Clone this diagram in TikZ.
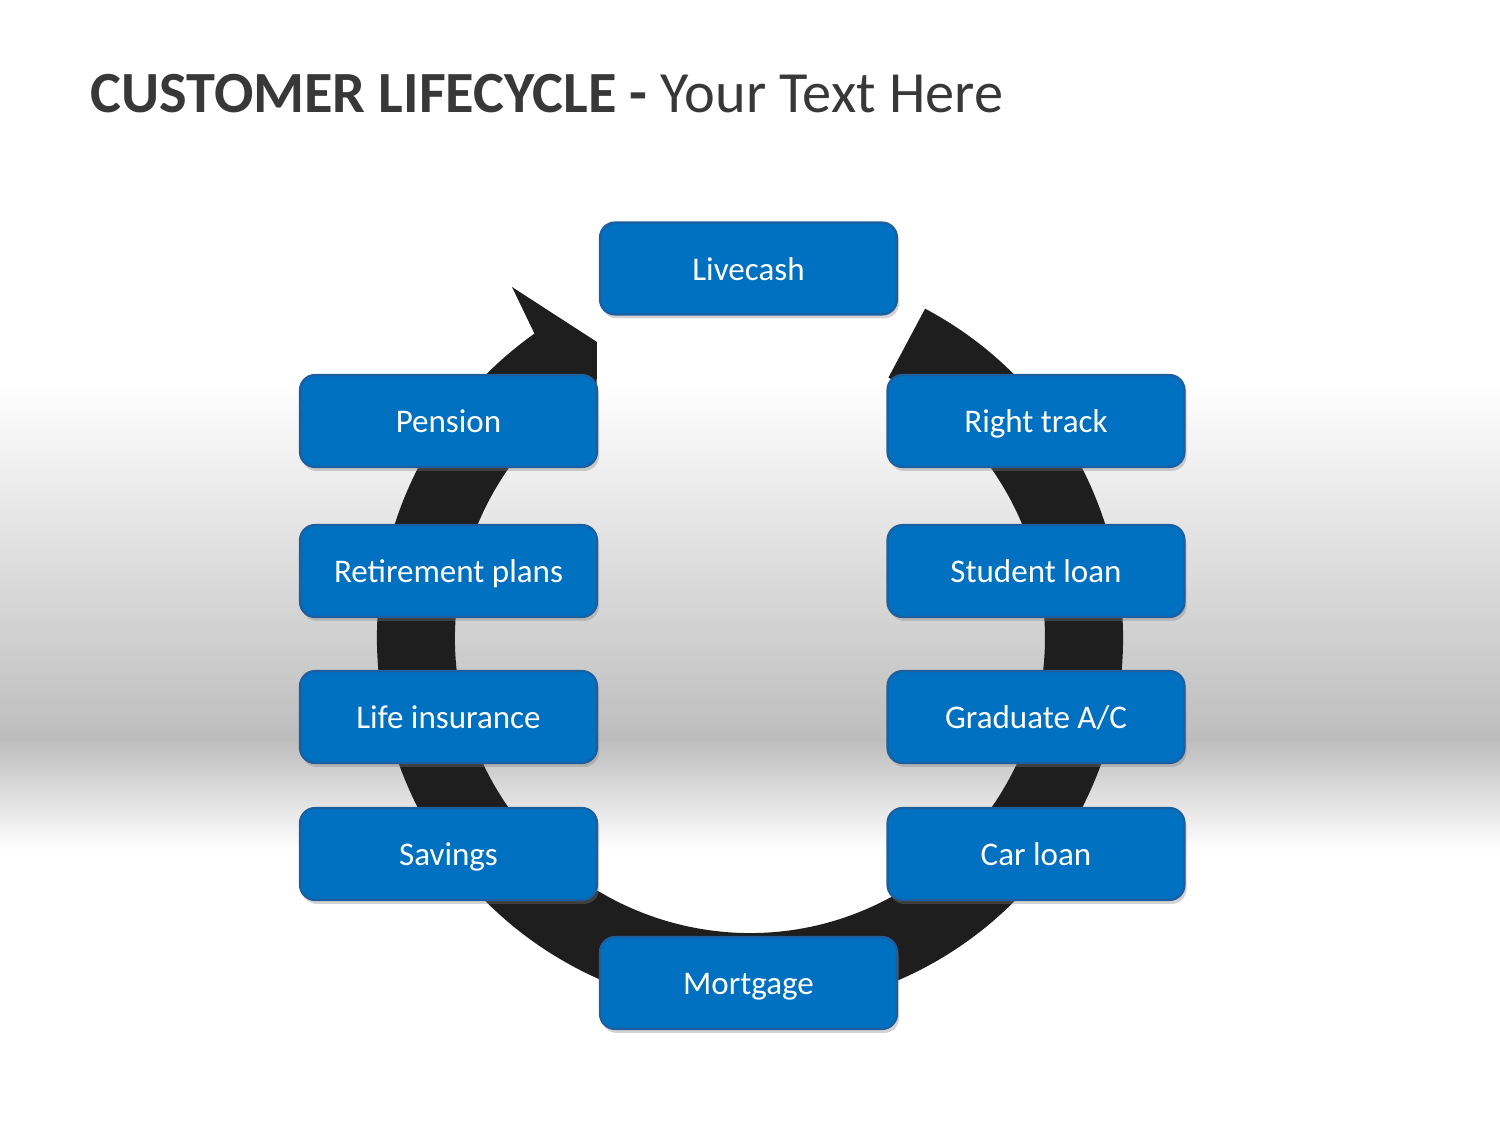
\documentclass[tikz,border=0pt]{standalone}
\usepackage{fontspec}
\setmainfont{Carlito}
\usetikzlibrary{shadows}
\definecolor{stageblue}{HTML}{0070C0}
\definecolor{stageedge}{HTML}{1C5E9E}
\definecolor{ringblack}{HTML}{1E1E1E}
\definecolor{titlegray}{HTML}{383838}
\definecolor{bandgray}{HTML}{BDBDBD}
\tikzset{
  stage/.style={draw=stageedge, line width=0.6pt, fill=stageblue, rounded corners=0.15cm,
    minimum width=2.97cm, minimum height=0.92cm, text=white, inner sep=0pt,
    text height=6.6pt, text depth=0pt, font=\fontsize{9.4}{11}\selectfont,
    drop shadow={shadow xshift=0.02cm, shadow yshift=-0.04cm, opacity=0.35}}
}
\begin{document}
\begin{tikzpicture}
  \useasboundingbox (0,0) rectangle (15,11.25);
  % background band
  \shade[top color=white, bottom color=bandgray] (0,7.45) rectangle (15,3.85);
  \shade[top color=bandgray, bottom color=white] (0,3.85) rectangle (15,2.75);
  % title
  \node[anchor=base west, inner sep=0pt, text=titlegray, font=\fontsize{16.6}{20}\selectfont] (title) at (0.9,10.12)
    {\textbf{CUSTOMER LIFECYCLE -} Your Text Here};
  % circular arrow
  \fill[ringblack] (7.5,4.87) ++(62:3.73) arc[start angle=62, end angle=-234.7, radius=3.73]
    -- (5.12,8.38) -- (5.97,7.83) -- (5.967,7.39)
    arc[start angle=-238.7, end angle=62, radius=2.95] -- cycle;
  % stages
  \node[stage] (live) at (7.485,8.565) {Livecash};
  \node[stage] (pension) at (4.485,7.04) {Pension};
  \node[stage] (right) at (10.36,7.04) {Right track};
  \node[stage] (retire) at (4.485,5.54) {Retirement plans};
  \node[stage] (student) at (10.36,5.54) {Student loan};
  \node[stage] (life) at (4.485,4.08) {Life insurance};
  \node[stage] (grad) at (10.36,4.08) {Graduate A/C};
  \node[stage] (savings) at (4.485,2.71) {Savings};
  \node[stage] (car) at (10.36,2.71) {Car loan};
  \node[stage] (mortgage) at (7.485,1.42) {Mortgage};
\end{tikzpicture}
\end{document}
